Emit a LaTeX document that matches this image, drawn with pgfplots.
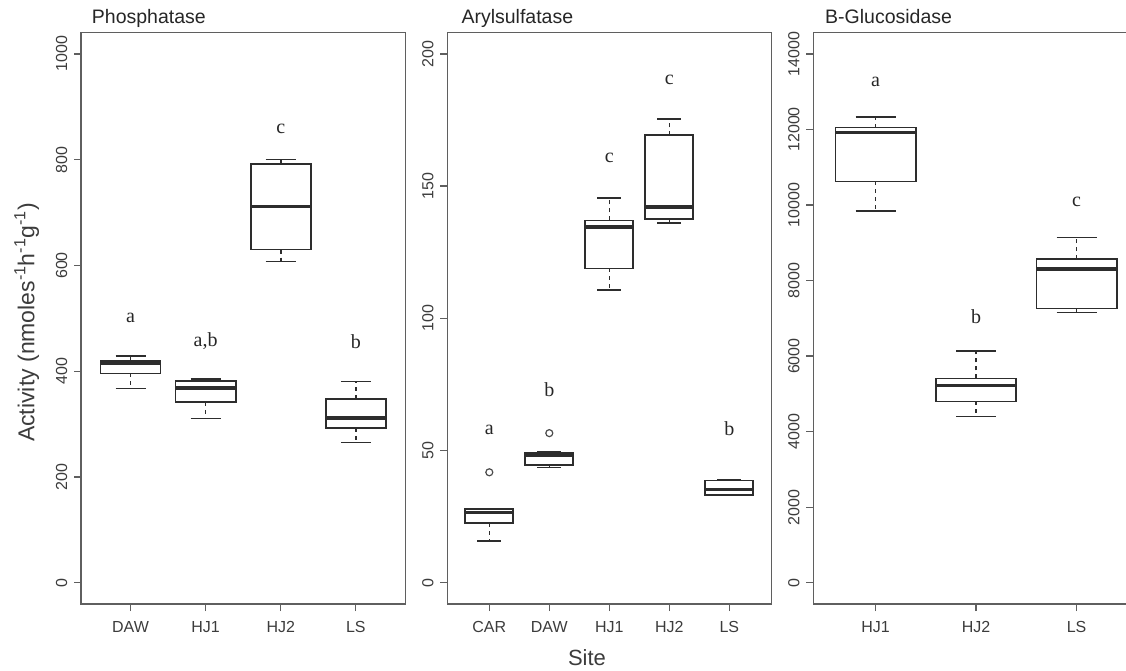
\documentclass[border=0pt]{standalone}
\usepackage{fontspec}
\setmainfont{Liberation Sans}
\newfontfamily\rserif{Liberation Serif}
\usepackage{pgfplots}
\pgfplotsset{compat=1.18}
\usepgfplotslibrary{statistics}

\definecolor{boxcol}{RGB}{45,45,45}
\definecolor{framecol}{RGB}{95,95,95}
\definecolor{textcol}{RGB}{60,60,60}

\tikzset{lett/.style={font=\rserif\fontsize{20}{22}\selectfont, text=black!85}}

\pgfplotsset{
  rpanel/.style={
    scale only axis, height=571.3pt,
    axis line style={framecol, line width=1.3pt},
    tick style={framecol, line width=1.3pt},
    tick align=outside, major tick length=7pt,
    xtick pos=bottom, ytick pos=left,
    /pgf/number format/assume math mode=true,
    /pgf/number format/1000 sep={},
    scaled y ticks=false,
    ticklabel style={font=\fontsize{16}{19}\selectfont, text=textcol},
    yticklabel style={rotate=90, anchor=south, inner sep=0pt, yshift=6.5pt},
    xticklabel style={anchor=north, inner sep=0pt, yshift=-10pt},
    title style={anchor=base west, inner sep=0pt,
      font=\fontsize{19.5}{22}\selectfont, text=black!85},
    clip=false,
  },
  rbox/.style={
    draw=boxcol,
    mark=o, mark size=3.5pt, mark options={solid, draw=boxcol!85, line width=1.2pt},
    boxplot/draw direction=y,
    boxplot/box extend=0.8,
    boxplot/every box/.style={draw=boxcol, line width=1.7pt, fill=white},
    boxplot/every median/.style={draw=boxcol, line width=3.4pt},
    boxplot/draw/lower whisker/.code={%
      \draw[boxcol, line width=1.5pt, dash pattern=on 4pt off 4pt]
        (boxplot box cs:\pgfplotsboxplotvalue{lower quartile},0.5) --
        (boxplot box cs:\pgfplotsboxplotvalue{lower whisker},0.5);
      \draw[boxcol, line width=1.5pt]
        (boxplot box cs:\pgfplotsboxplotvalue{lower whisker},0.25) --
        (boxplot box cs:\pgfplotsboxplotvalue{lower whisker},0.75);
    },
    boxplot/draw/upper whisker/.code={%
      \draw[boxcol, line width=1.5pt, dash pattern=on 4pt off 4pt]
        (boxplot box cs:\pgfplotsboxplotvalue{upper quartile},0.5) --
        (boxplot box cs:\pgfplotsboxplotvalue{upper whisker},0.5);
      \draw[boxcol, line width=1.5pt]
        (boxplot box cs:\pgfplotsboxplotvalue{upper whisker},0.25) --
        (boxplot box cs:\pgfplotsboxplotvalue{upper whisker},0.75);
    },
  },
}

\begin{document}
\begin{tikzpicture}
\useasboundingbox (0,0) rectangle (1126pt,670pt);

% Phosphatase
\begin{axis}[rpanel, at={(81pt,66pt)}, anchor=south west, width=324.4pt,
  xmin=0.34, xmax=4.66, ymin=-40, ymax=1040,
  xtick={1,2,3,4}, xticklabels={DAW,HJ1,HJ2,LS},
  ytick={0,200,400,600,800,1000},
  title={Phosphatase}, title style={at={(rel axis cs:0,1)}, xshift=10.7pt, yshift=3.5pt}]
\addplot[rbox, boxplot prepared={draw position=1, lower whisker=367, lower quartile=396, median=415, upper quartile=420, upper whisker=429}] coordinates {};
\addplot[rbox, boxplot prepared={draw position=2, lower whisker=311, lower quartile=342, median=368, upper quartile=382, upper whisker=385}] coordinates {};
\addplot[rbox, boxplot prepared={draw position=3, lower whisker=607, lower quartile=630, median=711, upper quartile=792, upper whisker=800}] coordinates {};
\addplot[rbox, boxplot prepared={draw position=4, lower whisker=265, lower quartile=293, median=312, upper quartile=348, upper whisker=381}] coordinates {};
\node[lett] at (axis cs:1,500) {a};
\node[lett] at (axis cs:2,457) {a,b};
\node[lett] at (axis cs:3,859) {c};
\node[lett] at (axis cs:4,456) {b};
\end{axis}

% Arylsulfatase
\begin{axis}[rpanel, at={(447.3pt,66pt)}, anchor=south west, width=324pt,
  xmin=0.3, xmax=5.7, ymin=-8, ymax=208,
  xtick={1,2,3,4,5}, xticklabels={CAR,DAW,HJ1,HJ2,LS},
  ytick={0,50,100,150,200},
  title={Arylsulfatase}, title style={at={(rel axis cs:0,1)}, xshift=14pt, yshift=3.5pt}]
\addplot[rbox, boxplot prepared={draw position=1, lower whisker=15.9, lower quartile=22.5, median=26.5, upper quartile=27.9, upper whisker=28.2}] table[row sep=\\, y index=0] {41.8\\};
\addplot[rbox, boxplot prepared={draw position=2, lower whisker=43.7, lower quartile=44.5, median=48.3, upper quartile=49.2, upper whisker=49.5}] table[row sep=\\, y index=0] {56.6\\};
\addplot[rbox, boxplot prepared={draw position=3, lower whisker=110.7, lower quartile=118.9, median=134.5, upper quartile=137, upper whisker=145.5}] coordinates {};
\addplot[rbox, boxplot prepared={draw position=4, lower whisker=136, lower quartile=137.6, median=142.1, upper quartile=169.2, upper whisker=175.3}] coordinates {};
\addplot[rbox, boxplot prepared={draw position=5, lower whisker=33.0, lower quartile=33.2, median=35.3, upper quartile=38.7, upper whisker=38.9}] coordinates {};
\node[lett] at (axis cs:1,58) {a};
\node[lett] at (axis cs:2,73) {b};
\node[lett] at (axis cs:3,160.8) {c};
\node[lett] at (axis cs:4,190.3) {c};
\node[lett] at (axis cs:5,58.4) {b};
\end{axis}

% B-Glucosidase
\begin{axis}[rpanel, at={(813.3pt,66pt)}, anchor=south west, width=325.6pt,
  xmin=0.38, xmax=3.62, ymin=-560, ymax=14560,
  xtick={1,2,3}, xticklabels={HJ1,HJ2,LS},
  ytick={0,2000,4000,6000,8000,10000,12000,14000},
  title={B-Glucosidase}, title style={at={(rel axis cs:0,1)}, xshift=11.7pt, yshift=3.5pt}]
\addplot[rbox, boxplot prepared={draw position=1, lower whisker=9846, lower quartile=10625, median=11912, upper quartile=12048, upper whisker=12330}] coordinates {};
\addplot[rbox, boxplot prepared={draw position=2, lower whisker=4403, lower quartile=4800, median=5227, upper quartile=5409, upper whisker=6131}] coordinates {};
\addplot[rbox, boxplot prepared={draw position=3, lower whisker=7157, lower quartile=7258, median=8308, upper quartile=8569, upper whisker=9135}] coordinates {};
\node[lett] at (axis cs:1,13267) {a};
\node[lett] at (axis cs:2,7035) {b};
\node[lett] at (axis cs:3,10070) {c};
\end{axis}

\node[font=\fontsize{22}{26}\selectfont, text=textcol] at (587pt,12pt) {Site};
\node[rotate=90, font=\fontsize{23}{27}\selectfont, text=textcol] at (26.7pt,347.5pt)
  {Activity (nmoles\textsuperscript{-1}h\textsuperscript{-1}g\textsuperscript{-1})};
\end{tikzpicture}
\end{document}
